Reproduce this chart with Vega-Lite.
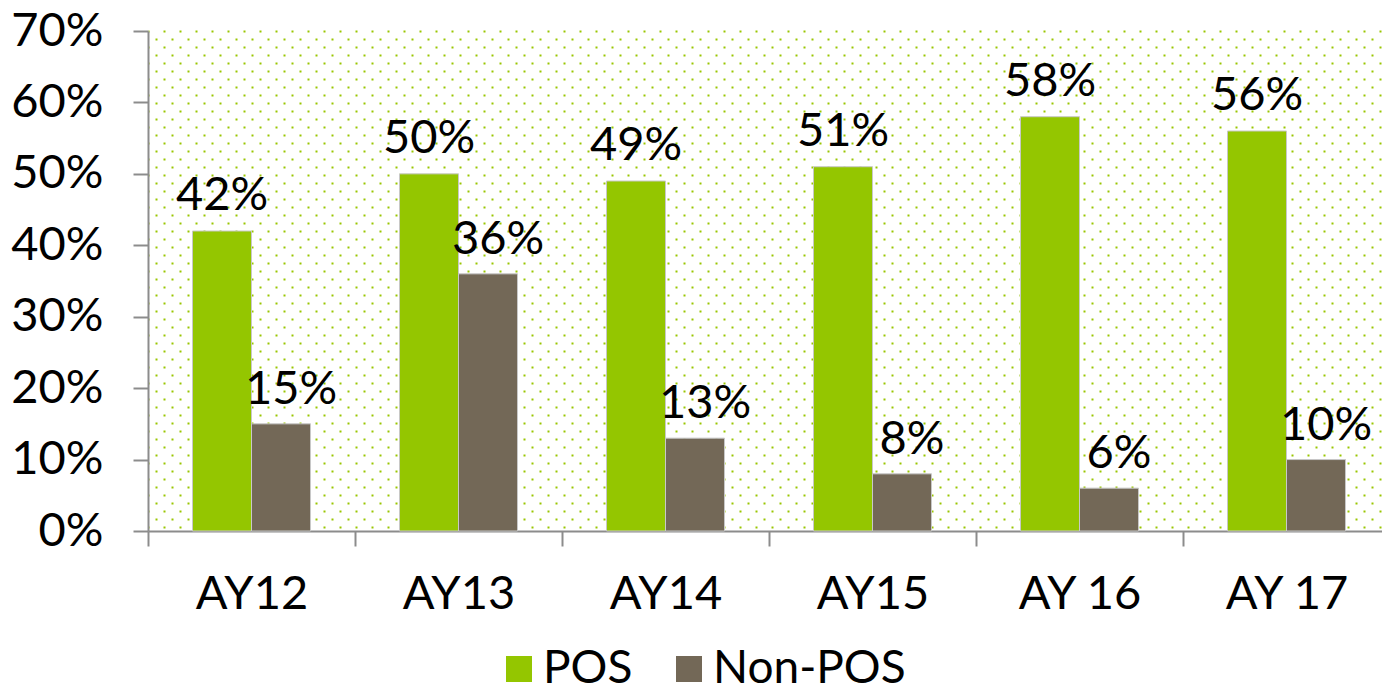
{
  "$schema": "https://vega.github.io/schema/vega-lite/v6.json",
  "width": 1242,
  "height": 500,
  "autosize": {"type": "none"},
  "padding": {"left": 148, "top": 31, "right": 0, "bottom": 163},
  "background": "white",
  "config": {
    "view": {"stroke": null},
    "font": "Lato",
    "text": {"font": "Lato"},
    "axis": {"labelFont": "Lato", "titleFont": "Lato"},
    "legend": {"labelFont": "Lato"}
  },
  "data": {
    "values": [
      {"year": "AY12", "group": "POS", "value": 0.42},
      {"year": "AY12", "group": "Non-POS", "value": 0.15},
      {"year": "AY13", "group": "POS", "value": 0.50},
      {"year": "AY13", "group": "Non-POS", "value": 0.36},
      {"year": "AY14", "group": "POS", "value": 0.49},
      {"year": "AY14", "group": "Non-POS", "value": 0.13},
      {"year": "AY15", "group": "POS", "value": 0.51},
      {"year": "AY15", "group": "Non-POS", "value": 0.08},
      {"year": "AY 16", "group": "POS", "value": 0.58},
      {"year": "AY 16", "group": "Non-POS", "value": 0.06},
      {"year": "AY 17", "group": "POS", "value": 0.56},
      {"year": "AY 17", "group": "Non-POS", "value": 0.10}
    ]
  },
  "encoding": {
    "x": {
      "field": "year",
      "type": "nominal",
      "sort": null,
      "scale": {"paddingInner": 0, "paddingOuter": 0},
      "axis": {
        "title": null,
        "labelAngle": 0,
        "labelFontSize": 47,
        "labelColor": "#000000",
        "labelPadding": 25,
        "tickBand": "extent",
        "tickSize": 15,
        "tickWidth": 2,
        "tickColor": "#8c8c8c",
        "domainColor": "#8c8c8c",
        "domainWidth": 2,
        "grid": false
      }
    },
    "xOffset": {
      "field": "group",
      "type": "nominal",
      "sort": ["POS", "Non-POS"],
      "scale": {"paddingOuter": 0.754, "paddingInner": 0}
    }
  },
  "layer": [
    {
      "mark": {"type": "bar", "stroke": "#c8c8c8", "strokeWidth": 1},
      "encoding": {
        "y": {
          "field": "value",
          "type": "quantitative",
          "scale": {"domain": [0, 0.7], "nice": false},
          "axis": {
            "title": null,
            "orient": "left",
            "values": [0, 0.1, 0.2, 0.3, 0.4, 0.5, 0.6, 0.7],
            "format": ".0%",
            "labelFontSize": 47,
            "labelColor": "#000000",
            "labelPadding": 30,
            "tickSize": 15,
            "tickWidth": 2,
            "tickColor": "#8c8c8c",
            "domainColor": "#8c8c8c",
            "domainWidth": 2,
            "grid": false
          }
        },
        "color": {
          "field": "group",
          "type": "nominal",
          "sort": ["POS", "Non-POS"],
          "scale": {"domain": ["POS", "Non-POS"], "range": ["#94c600", "#736857"]},
          "legend": {
            "title": null,
            "orient": "none",
            "direction": "horizontal",
            "legendX": 348,
            "legendY": 615,
            "padding": 0,
            "symbolType": "square",
            "symbolSize": 676,
            "symbolStrokeWidth": 0,
            "labelFontSize": 46,
            "labelColor": "#000000",
            "labelLimit": 0,
            "labelOffset": 1,
            "columnPadding": 33
          }
        }
      }
    },
    {
      "transform": [{"filter": "datum.group == 'POS'"}],
      "mark": {"type": "text", "fontSize": 47, "color": "#000000", "baseline": "alphabetic", "dy": -21},
      "encoding": {
        "y": {
          "field": "value",
          "type": "quantitative",
          "axis": {
            "orient": "right",
            "title": null,
            "labels": false,
            "ticks": false,
            "domain": false,
            "grid": true,
            "gridColor": "#99c600",
            "gridWidth": 2,
            "gridDash": [2, 14],
            "gridDashOffset": {
              "condition": {"test": "round((0.7 - datum.value) / 0.0112) % 2 == 0", "value": 7},
              "value": 15
            },
            "values": [0.7, 0.6888, 0.6776, 0.6664, 0.6552, 0.644, 0.6328, 0.6216, 0.6104, 0.5992, 0.588, 0.5768, 0.5656, 0.5544, 0.5432, 0.532, 0.5208, 0.5096, 0.4984, 0.4872, 0.476, 0.4648, 0.4536, 0.4424, 0.4312, 0.42, 0.4088, 0.3976, 0.3864, 0.3752, 0.364, 0.3528, 0.3416, 0.3304, 0.3192, 0.308, 0.2968, 0.2856, 0.2744, 0.2632, 0.252, 0.2408, 0.2296, 0.2184, 0.2072, 0.196, 0.1848, 0.1736, 0.1624, 0.1512, 0.14, 0.1288, 0.1176, 0.1064, 0.0952, 0.084, 0.0728, 0.0616, 0.0504, 0.0392, 0.028, 0.0168, 0.0056]
          }
        },
        "text": {"field": "value", "type": "quantitative", "format": ".0%"}
      }
    },
    {
      "transform": [{"filter": "datum.group == 'Non-POS'"}],
      "mark": {"type": "text", "fontSize": 47, "color": "#000000", "baseline": "alphabetic", "dy": -20, "dx": 10},
      "encoding": {
        "y": {"field": "value", "type": "quantitative", "axis": null},
        "text": {"field": "value", "type": "quantitative", "format": ".0%"}
      }
    }
  ],
  "resolve": {"axis": {"y": "independent"}}
}
